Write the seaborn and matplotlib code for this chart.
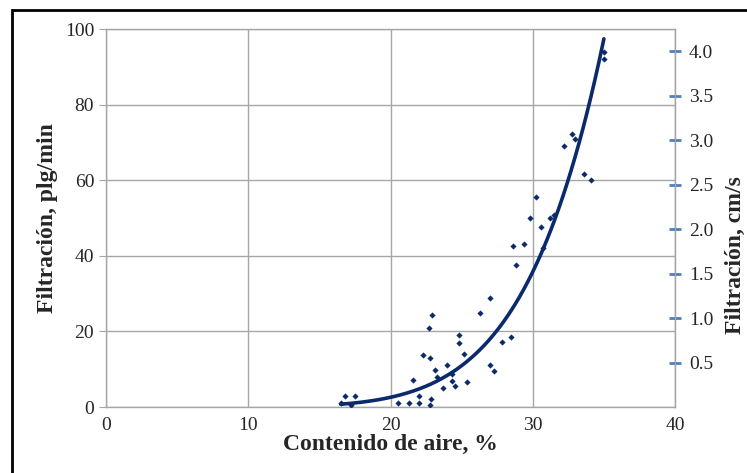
import numpy as np
import pandas as pd
import matplotlib
matplotlib.use('Agg')
import matplotlib.pyplot as plt
import seaborn as sns
from matplotlib.patches import Rectangle

# datos
contenido_aire = [16.5, 16.8, 17.2, 17.5, 20.5, 21.3, 21.6, 22.0, 22.0, 22.3,
                  22.7, 22.9, 22.8, 22.85, 22.8, 23.1, 23.3, 23.7, 24.0, 24.3,
                  24.35, 24.5, 24.8, 24.8, 25.2, 25.4, 26.3, 27.0, 27.0, 27.3,
                  27.85, 28.5, 28.6, 28.8, 29.35, 29.8, 30.2, 30.6, 30.7, 31.2,
                  31.5, 32.2, 32.75, 33.0, 33.6, 34.1, 35.0, 35.0]
filtracion = [1.0, 2.9, 0.4, 2.9, 1.0, 1.0, 7.1, 2.9, 1.0, 13.7,
              21.0, 24.4, 12.9, 2.1, 0.6, 9.7, 7.9, 5.0, 11.0, 8.7,
              6.8, 5.5, 19.0, 16.8, 13.9, 6.6, 24.9, 28.9, 11.0, 9.4,
              17.1, 18.6, 42.7, 37.5, 43.0, 50.1, 55.6, 47.7, 42.1, 50.1,
              50.9, 69.0, 72.1, 70.8, 61.7, 60.0, 94.0, 92.0]

ticks_x = [0, 10, 20, 30, 40]
ticks_y = [0, 20, 40, 60, 80, 100]
ticks_der = [0.5, 1.0, 1.5, 2.0, 2.5, 3.0, 3.5, 4.0]

df = pd.DataFrame({'aire': contenido_aire, 'filt': filtracion})

# linea de tendencia potencial (como en Excel)
b, ln_a = np.polyfit(np.log(df['aire']), np.log(df['filt']), 1)
xs = np.linspace(df['aire'].min(), df['aire'].max(), 200)
tend = pd.DataFrame({'aire': xs, 'filt': np.exp(ln_a) * xs ** b})

sns.set_style('white')
plt.rcParams['font.family'] = ['Liberation Serif', 'DejaVu Serif']

azul = '#0b2a6b'
gris = '#a6a6a6'

fig = plt.figure(figsize=(7.47, 4.73), dpi=100)
ax = fig.add_axes([106 / 747, 1 - 407 / 473, 569 / 747, 378 / 473])

sns.lineplot(data=tend, x='aire', y='filt', ax=ax, color=azul, lw=2.6, zorder=3)
sns.scatterplot(data=df, x='aire', y='filt', ax=ax, color=azul, marker='D',
                s=10, linewidth=0, zorder=4)

ax.set_xlim(0, 40)
ax.set_ylim(0, 100)
ax.set_xticks(ticks_x)
ax.set_yticks(ticks_y)
ax.grid(True, color=gris, lw=1)
ax.tick_params(labelsize=14, length=5, color=gris, direction='out')
ax.tick_params(axis='x', pad=2)
for s in ax.spines.values():
    s.set_color(gris)
    s.set_linewidth(1)
ax.set_xlabel('Contenido de aire, %', fontsize=17, fontweight='bold', labelpad=0)
ax.set_ylabel('Filtración, plg/min', fontsize=17, fontweight='bold', labelpad=5)

ax2 = ax.twinx()
ax2.set_ylim(0, 100 / 23.53)
ax2.set_yticks(ticks_der)
ax2.set_yticklabels([f'{t:.1f}' for t in ticks_der])
ax2.tick_params(labelsize=14, length=8, width=2, color='#4f81bd', direction='inout', pad=6)
for s in ax2.spines.values():
    s.set_visible(False)
ax2.spines['right'].set_visible(True)
ax2.spines['right'].set_color(gris)

fig.text(735 / 747, 218 / 473, 'Filtración, cm/s', rotation=90, fontsize=17,
         fontweight='bold', ha='center', va='center')

# marco de la figura
fig.patches.append(Rectangle((12 / 747, -0.1), 1.2, 1 - 10 / 473 + 0.1,
                             transform=fig.transFigure, fill=False,
                             edgecolor='black', lw=2))

fig.savefig('out.png', dpi=100)
